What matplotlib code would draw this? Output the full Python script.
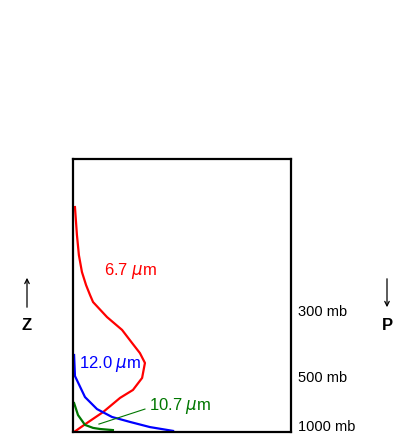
import matplotlib
matplotlib.use("Agg")
import matplotlib.pyplot as plt
from matplotlib.patches import FancyArrowPatch

plt.rcParams['font.family'] = ['Liberation Sans', 'DejaVu Sans']
plt.rcParams['mathtext.fontset'] = 'dejavusans'

# Weighting functions: x = relative weight, y = normalized height
red_x = [0.009, 0.018, 0.027, 0.041, 0.060, 0.078, 0.092, 0.156, 0.225, 0.271, 0.307, 0.330, 0.317, 0.275, 0.216, 0.138, 0.064, 0.005]
red_y = [0.824, 0.722, 0.648, 0.586, 0.538, 0.502, 0.476, 0.421, 0.374, 0.326, 0.289, 0.253, 0.198, 0.154, 0.125, 0.073, 0.033, 0.0]

blue_x = [0.005, 0.009, 0.055, 0.110, 0.179, 0.261, 0.353, 0.459]
blue_y = [0.282, 0.205, 0.128, 0.084, 0.055, 0.037, 0.018, 0.004]

green_x = [0.005, 0.023, 0.055, 0.092, 0.124, 0.183]
green_y = [0.106, 0.062, 0.026, 0.015, 0.011, 0.007]

level_labels = ["300 mb", "500 mb", "1000 mb"]
level_y = [0.440, 0.198, 0.018]

W, H = 411, 445
fig = plt.figure(figsize=(W / 100, H / 100), dpi=100)
ax = fig.add_axes([73 / W, (H - 432) / H, 218 / W, 273 / H])
ax.set_xlim(0, 1)
ax.set_ylim(0, 1)
ax.set_xticks([])
ax.set_yticks([])
for s in ax.spines.values():
    s.set_linewidth(1.6)
    s.set_color('black')

ax.plot(red_x, red_y, color='#ff0000', lw=1.6)
ax.plot(blue_x, blue_y, color='#0000ff', lw=1.6)
ax.plot(green_x, green_y, color='#007700', lw=1.6)

ax.text(0.14, 0.588, "6.7 $\\mu$m", color='#ff0000', fontsize=12, va='center', ha='left')
ax.text(0.028, 0.248, "12.0 $\\mu$m", color='#0000ff', fontsize=12, va='center', ha='left')
ax.text(0.35, 0.097, "10.7 $\\mu$m", color='#007700', fontsize=12, va='center', ha='left')
ax.plot([0.119, 0.330], [0.029, 0.084], color='#007700', lw=0.8)

for lab, yv in zip(level_labels, level_y):
    ax.text(1.0 + (298 - 291) / 218, yv, lab, fontsize=10.5, va='center', ha='left',
            transform=ax.transAxes, clip_on=False)

# Z arrow (up) and P arrow (down)
fig.patches.append(FancyArrowPatch(
    (27 / W, 1 - 310 / H), (27 / W, 1 - 275 / H), transform=fig.transFigure,
    arrowstyle='->', mutation_scale=8, lw=0.9, color='black'))
fig.text(27 / W, 1 - 326 / H, "Z", fontsize=12, fontweight='bold', ha='center', va='center')

fig.patches.append(FancyArrowPatch(
    (387 / W, 1 - 276 / H), (387 / W, 1 - 310 / H), transform=fig.transFigure,
    arrowstyle='->', mutation_scale=8, lw=0.9, color='black'))
fig.text(387 / W, 1 - 325 / H, "P", fontsize=12, fontweight='bold', ha='center', va='center')

fig.savefig("out.png", dpi=100)
